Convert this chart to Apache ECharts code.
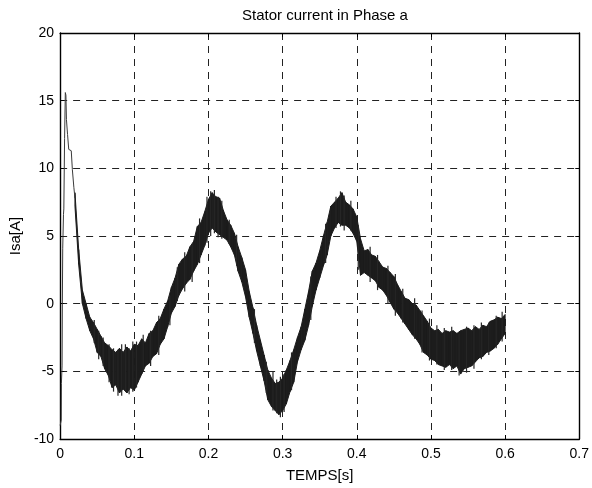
<!DOCTYPE html>
<html>
<head>
<meta charset="utf-8">
<script src="https://cdn.jsdelivr.net/npm/echarts@6/dist/echarts.min.js"></script>
<style>
html,body{margin:0;padding:0;background:#fff;}
#c{width:592px;height:488px;}
</style>
</head>
<body>
<div id="c"></div>
<script>
// ---- data ----
const titleText = 'Stator current in Phase a';
const xName = 'TEMPS[s]';
const yName = 'Isa[A]';
const xTickLabels = ['0','0.1','0.2','0.3','0.4','0.5','0.6','0.7'];
const yTickLabels = ['-10','-5','0','5','10','15','20'];

// start-up transient (thin line)
const tStart = [0.0000,0.0015,0.0017,0.0026,0.0030,0.0035,0.0045,0.0050,0.0060,0.0070,0.0078,0.0085,0.0100,0.0116,0.0150,0.0165,0.0185,0.0200];
const iStart = [-9.0,-8.6,-5.9,-4.6,0.0,4.1,6.6,7.0,12.2,15.6,15.4,13.6,12.5,11.4,11.3,9.9,8.6,7.8];

// noisy steady part: time, lower and upper envelope of the band
const tBand = [0.020,0.025,0.030,0.035,0.040,0.045,0.050,0.055,0.060,0.065,0.070,0.075,0.080,0.085,0.090,0.095,
0.100,0.105,0.110,0.115,0.120,0.125,0.130,0.135,0.140,0.145,0.150,0.155,0.160,0.165,0.170,0.175,0.180,0.185,0.190,0.195,
0.200,0.205,0.210,0.215,0.220,0.225,0.230,0.235,0.240,0.245,0.250,0.255,0.260,0.265,0.270,0.275,0.280,0.285,0.290,0.295,
0.300,0.305,0.310,0.315,0.320,0.325,0.330,0.335,0.340,0.345,0.350,0.355,0.360,0.365,0.370,0.375,0.380,0.385,0.390,0.395,
0.400,0.405,0.410,0.415,0.420,0.425,0.430,0.435,0.440,0.445,0.450,0.455,0.460,0.465,0.470,0.475,0.480,0.485,0.490,0.495,
0.500,0.505,0.510,0.515,0.520,0.525,0.530,0.535,0.540,0.545,0.550,0.555,0.560,0.565,0.570,0.575,0.580,0.585,0.590,0.595,0.600];
const iLow = [7.2,2.9,0.0,-1.1,-2.0,-2.6,-3.6,-3.9,-4.8,-5.3,-6.2,-6.0,-6.6,-6.3,-6.6,-6.2,
-6.4,-5.8,-5.2,-4.6,-4.4,-3.9,-3.7,-3.0,-2.6,-1.7,-0.7,-0.2,0.6,1.1,1.5,1.8,2.4,2.9,3.6,4.3,
5.2,5.6,5.3,5.1,4.9,4.7,4.2,3.6,2.4,1.6,0.5,-1.0,-2.2,-3.5,-4.6,-5.7,-7.1,-7.6,-7.9,-8.2,
-7.9,-7.4,-6.5,-5.8,-4.3,-3.4,-2.7,-1.6,-0.2,1.0,1.9,2.8,3.6,5.0,5.6,6.0,5.8,5.8,5.6,5.2,
4.6,2.1,2.3,2.1,1.9,1.7,1.2,1.0,0.6,0.1,-0.4,-0.7,-1.1,-1.5,-1.9,-2.3,-2.6,-3.0,-3.6,-3.8,
-4.1,-4.2,-4.5,-4.6,-4.7,-4.5,-4.8,-4.6,-5.2,-4.8,-4.7,-4.6,-4.3,-4.0,-3.9,-3.6,-3.5,-3.3,-3.0,-2.6,-2.2];
const iHigh = [8.2,4.0,1.0,0.0,-1.0,-1.4,-1.9,-2.4,-2.9,-3.1,-3.4,-3.6,-3.3,-3.6,-3.2,-3.5,
-3.0,-3.1,-2.6,-2.9,-2.2,-2.0,-1.4,-1.1,-0.4,0.2,1.2,1.9,2.9,3.3,3.5,4.2,4.6,5.7,6.0,6.8,
7.7,8.2,7.9,7.8,6.9,6.2,5.8,5.2,4.2,3.4,2.5,0.9,-0.3,-1.6,-2.7,-3.8,-4.9,-5.5,-5.9,-5.8,
-5.5,-4.9,-4.2,-3.4,-2.5,-1.7,-0.4,0.9,2.4,3.0,3.9,5.0,6.0,7.2,7.5,7.8,8.2,7.5,7.3,7.0,
6.4,4.8,3.9,4.0,3.6,3.5,3.1,2.7,2.6,2.3,2.0,1.4,0.9,0.4,0.3,0.0,-0.1,-0.5,-0.9,-1.3,
-1.8,-2.0,-1.9,-2.2,-2.0,-2.1,-2.0,-2.2,-2.0,-1.9,-1.8,-2.0,-1.7,-1.9,-1.6,-1.7,-1.3,-1.2,-1.0,-1.1,-0.8];

// individual noise spikes standing out of the band: time, bottom, top
const tSpike = [0.046,0.052,0.058,0.066,0.072,0.078,0.083,0.088,0.093,0.098,0.103,0.112,0.122,0.133,0.148,0.158,0.168,0.178,0.188,0.198,
0.203,0.208,0.213,0.218,0.228,0.238,0.262,0.278,0.287,0.292,0.297,0.302,0.312,0.338,0.358,0.372,0.378,0.383,0.392,0.402,
0.418,0.428,0.442,0.452,0.462,0.478,0.488,0.498,0.508,0.518,0.528,0.538,0.548,0.558,0.568,0.578,0.588,0.596];
const spikeLo = [-2.9,-4.1,-4.6,-5.8,-6.5,-6.8,-6.8,-6.4,-6.7,-6.5,-6.2,-5.0,-4.6,-3.8,-1.6,0.2,0.9,1.6,3.0,4.5,
5.0,5.2,4.9,4.8,4.4,2.8,-2.9,-6.6,-7.9,-8.1,-8.4,-8.0,-6.4,-1.2,3.0,5.6,5.7,5.4,5.4,2.5,
1.6,1.0,0.0,-0.9,-1.4,-2.6,-3.6,-4.2,-4.5,-4.9,-4.9,-5.3,-5.1,-4.8,-4.1,-3.8,-3.3,-2.8];
const spikeHi = [-1.2,-2.0,-2.5,-3.0,-3.3,-3.4,-3.0,-3.0,-3.3,-2.8,-2.8,-2.3,-2.0,-0.9,0.6,2.7,3.8,4.4,6.3,7.9,
8.3,8.4,7.9,7.6,6.2,5.1,-0.4,-4.3,-5.0,-5.6,-5.4,-5.2,-3.6,2.0,5.9,7.9,8.3,8.0,7.6,5.8,
4.2,3.6,2.8,2.2,1.1,0.4,-0.5,-1.1,-1.6,-1.8,-1.7,-2.2,-1.7,-1.6,-1.4,-1.4,-0.9,-0.6];

// ---- build chart ----
const FONT = '"Liberation Sans", Arial, Helvetica, sans-serif';
const BAND = '#1c1c1c';
const startData = tStart.map((t, i) => [t, iStart[i]]);
// one band segment per pair of neighbouring samples
const bandData = [];
for (let i = 0; i < tBand.length - 1; i++) {
  bandData.push([tBand[i], iLow[i], iHigh[i], tBand[i + 1], iLow[i + 1], iHigh[i + 1]]);
}
const spikeData = tSpike.map((t, i) => [t, spikeLo[i], spikeHi[i]]);

const gridLine = { show: true, lineStyle: { color: '#222', width: 1, type: [7, 6] } };
const frameLine = { show: true, onZero: false, lineStyle: { color: '#000', width: 1.4 } };
const tickStyle = { show: true, inside: true, length: 4, lineStyle: { color: '#000' } };

const chart = echarts.init(document.getElementById('c'), null, { renderer: 'canvas' });
chart.setOption({
  backgroundColor: '#fff',
  animation: false,
  title: {
    text: titleText, left: 320, top: 3, textAlign: 'center',
    textStyle: { fontFamily: FONT, fontSize: 15, fontWeight: 'normal', color: '#000' }
  },
  grid: { left: 60, right: 12, top: 33, bottom: 45, containLabel: false },
  xAxis: [{
    type: 'value', min: 0, max: 0.7, interval: 0.1, position: 'bottom',
    name: xName, nameLocation: 'middle', nameGap: 29,
    nameTextStyle: { fontFamily: FONT, fontSize: 15, color: '#000' },
    axisLine: frameLine, axisTick: tickStyle,
    axisLabel: { fontFamily: FONT, fontSize: 14, color: '#000', margin: 8,
      formatter: v => xTickLabels[Math.round(v * 10)] },
    splitLine: gridLine
  }, {
    type: 'value', min: 0, max: 0.7, interval: 0.1, position: 'top',
    axisLine: frameLine, axisTick: tickStyle,
    axisLabel: { show: false }, splitLine: { show: false }
  }],
  yAxis: [{
    type: 'value', min: -10, max: 20, interval: 5, position: 'left',
    name: yName, nameLocation: 'middle', nameGap: 37, nameRotate: 90,
    nameTextStyle: { fontFamily: FONT, fontSize: 15, color: '#000' },
    axisLine: frameLine, axisTick: tickStyle,
    axisLabel: { fontFamily: FONT, fontSize: 14, color: '#000', margin: 6,
      formatter: v => yTickLabels[Math.round((v + 10) / 5)] },
    splitLine: gridLine
  }, {
    type: 'value', min: -10, max: 20, interval: 5, position: 'right',
    axisLine: frameLine, axisTick: tickStyle,
    axisLabel: { show: false }, splitLine: { show: false }
  }],
  series: [{
    type: 'line', data: startData, showSymbol: false, symbol: 'none',
    lineStyle: { color: '#3a3a3a', width: 1 }, z: 3
  }, {
    type: 'custom', data: bandData, z: 3, silent: true,
    renderItem: function (params, api) {
      const a = api.coord([api.value(0), api.value(2)]);
      const b = api.coord([api.value(3), api.value(5)]);
      const c = api.coord([api.value(3), api.value(4)]);
      const d = api.coord([api.value(0), api.value(1)]);
      return {
        type: 'polygon',
        shape: { points: [a, b, c, d] },
        style: { fill: BAND, stroke: BAND, lineWidth: 1 }
      };
    }
  }, {
    type: 'custom', data: spikeData, z: 3, silent: true,
    renderItem: function (params, api) {
      const p = api.coord([api.value(0), api.value(1)]);
      const q = api.coord([api.value(0), api.value(2)]);
      return {
        type: 'line',
        shape: { x1: p[0], y1: p[1], x2: q[0], y2: q[1] },
        style: { stroke: '#262626', lineWidth: 1.2 }
      };
    }
  }]
});
</script>
</body>
</html>
